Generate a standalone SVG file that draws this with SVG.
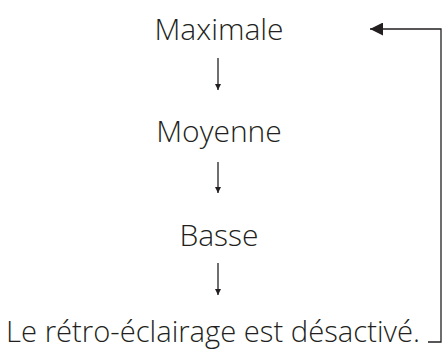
<svg xmlns="http://www.w3.org/2000/svg" width="442" height="350" viewBox="0 0 442 350">
<style>
text{font-family:"Open Sans","Noto Sans",sans-serif;font-weight:300;font-size:30px;fill:#231f20;text-anchor:middle}
.c{stroke:#231f20;stroke-width:1.3;fill:none}
</style>
<defs>
<marker id="a" viewBox="0 0 10 10" refX="10" refY="5" markerWidth="6" markerHeight="8" markerUnits="userSpaceOnUse" orient="auto"><path d="M0,0L10,5L0,10z" fill="#231f20"/></marker>
<marker id="b" viewBox="0 0 10 10" refX="10" refY="5" markerWidth="22" markerHeight="13" markerUnits="userSpaceOnUse" orient="auto"><path d="M0,0L10,5L0,10z" fill="#231f20"/></marker>
</defs>
<g id="n1"><text x="219" y="40">Maximale</text></g>
<g id="n2"><text x="219" y="142">Moyenne</text></g>
<g id="n3"><text x="219" y="246">Basse</text></g>
<g id="n4"><text x="213" y="342" style="font-size:29.2px">Le rétro-éclairage est désactivé.</text></g>
<g id="connectors">
<line class="c" x1="218" y1="58" x2="218" y2="90" marker-end="url(#a)"/>
<line class="c" x1="218" y1="162" x2="218" y2="193" marker-end="url(#a)"/>
<line class="c" x1="218" y1="263" x2="218" y2="295" marker-end="url(#a)"/>
<polyline class="c" points="428,342 441,342 441,29 370,29" marker-end="url(#b)"/>
</g>
</svg>
